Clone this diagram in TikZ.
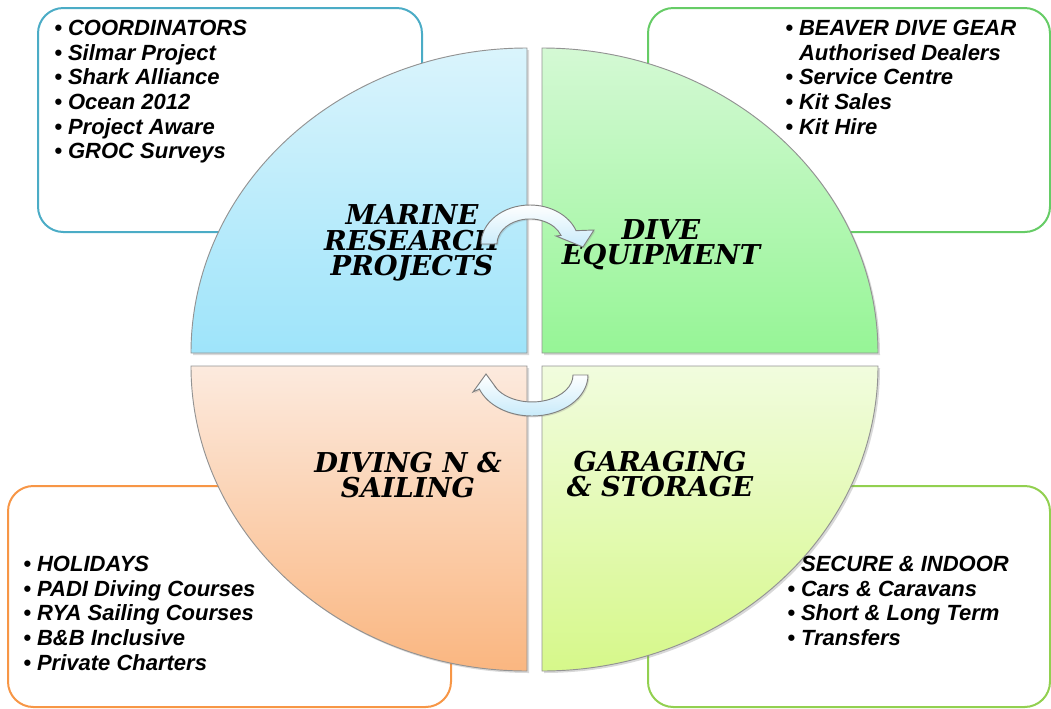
\documentclass[tikz,border=0pt]{standalone}
\usepackage{fontspec}
\setmainfont{Liberation Sans}
\newfontfamily\listfont{Liberation Sans}
\newfontfamily\quadfont{DejaVu Serif}
\usepackage{xcolor}
\usetikzlibrary{shadows}
\definecolor{mrblue}{RGB}{75,172,198}
\definecolor{mrbluetop}{RGB}{218,244,252}
\definecolor{mrbluebot}{RGB}{158,228,250}
\definecolor{degreen}{RGB}{102,204,102}
\definecolor{degreentop}{RGB}{212,249,212}
\definecolor{degreenbot}{RGB}{150,245,150}
\definecolor{dsorange}{RGB}{247,150,70}
\definecolor{dsorangetop}{RGB}{252,234,222}
\definecolor{dsorangebot}{RGB}{250,182,128}
\definecolor{gslime}{RGB}{146,208,80}
\definecolor{gslimetop}{RGB}{241,252,222}
\definecolor{gslimebot}{RGB}{214,248,138}
\definecolor{cyclefill}{RGB}{200,234,250}

\begin{document}
\begin{tikzpicture}[x=0.75pt,y=-0.75pt,
    infobox/.style={line width=1.5pt,fill=white,rounded corners=19pt},
    quad/.style={draw=gray!85,line width=0.7pt,
      drop shadow={opacity=0.3,shadow xshift=1.5pt,shadow yshift=-1.5pt}},
    quadlabel/.style={inner sep=0pt,align=center,
      font=\quadfont\bfseries\itshape\fontsize{20.5}{19}\selectfont},
    listtext/.style={anchor=north west,inner sep=0pt,align=left,
      font=\listfont\bfseries\itshape\fontsize{16.5}{18.5}\selectfont},
    cyclearrow/.style={draw=gray,line width=0.7pt,top color=white,bottom color=cyclefill,
      drop shadow={opacity=0.25,shadow xshift=1pt,shadow yshift=-1pt}}]
  \useasboundingbox (0,0) rectangle (1051,708);
  \clip (0,0) rectangle (1051,708);

  % Info boxes
  \draw[infobox,draw=mrblue] (38,8) rectangle (422,232);
  \draw[infobox,draw=degreen] (648,8) rectangle (1050,232);
  \draw[infobox,draw=dsorange] (8,486) rectangle (451,707);
  \draw[infobox,draw=gslime] (648,486) rectangle (1050,707);

  % Quadrants
  \path[quad,top color=mrbluetop,bottom color=mrbluebot]
    (527,353) -- (191,353) arc[start angle=180,end angle=270,x radius=336,y radius=305] -- cycle;
  \path[quad,top color=degreentop,bottom color=degreenbot]
    (542,353) -- (542,48) arc[start angle=270,end angle=360,x radius=336,y radius=305] -- cycle;
  \path[quad,top color=dsorangetop,bottom color=dsorangebot]
    (527,366) -- (527,671) arc[start angle=90,end angle=180,x radius=336,y radius=305] -- cycle;
  \path[quad,top color=gslimetop,bottom color=gslimebot]
    (542,366) -- (878,366) arc[start angle=0,end angle=90,x radius=336,y radius=305] -- cycle;

  % Titles
  \node[quadlabel] (mrtitle) at (412,243) {MARINE\\RESEARCH\\PROJECTS};
  \node[quadlabel] (detitle) at (661,245) {DIVE\\EQUIPMENT};
  \node[quadlabel] (dstitle) at (408,475) {DIVING N \&\\SAILING};
  \node[quadlabel] (gstitle) at (660,474) {GARAGING\\\& STORAGE};

  % Cycle arrows
  \coordinate (toparc) at (530,244);
  \coordinate (botarc) at (532,375);
  \path[cyclearrow,shift={(toparc)}]
    (-49,0) arc[start angle=180,end angle=340,x radius=49,y radius=39]
    -- (64,-14) -- (53,3) -- (26,-8) -- (31,-8.6)
    arc[start angle=340,end angle=180,x radius=33,y radius=25] -- cycle;
  \path[cyclearrow,shift={(botarc)}]
    (56,0) arc[start angle=0,end angle=160,x radius=56,y radius=41]
    -- (-59,17) -- (-46,-1) -- (-35,14) -- (-38.5,9.2)
    arc[start angle=160,end angle=0,x radius=41,y radius=27] -- cycle;

  % Lists
  \node[listtext] (mrlist) at (54,20) {• COORDINATORS\\• Silmar Project\\• Shark Alliance\\• Ocean 2012\\• Project Aware\\• GROC Surveys};
  \node[listtext] (delist) at (785,20) {• BEAVER DIVE GEAR\\\phantom{• }Authorised Dealers\\• Service Centre\\• Kit Sales\\• Kit Hire};
  \node[listtext] (dslist) at (23,556) {• HOLIDAYS\\• PADI Diving Courses\\• RYA Sailing Courses\\• B\&B Inclusive\\• Private Charters};
  \node[listtext] (gslist) at (787,556) {\phantom{• }SECURE \& INDOOR\\• Cars \& Caravans\\• Short \& Long Term\\• Transfers};
\end{tikzpicture}
\end{document}
